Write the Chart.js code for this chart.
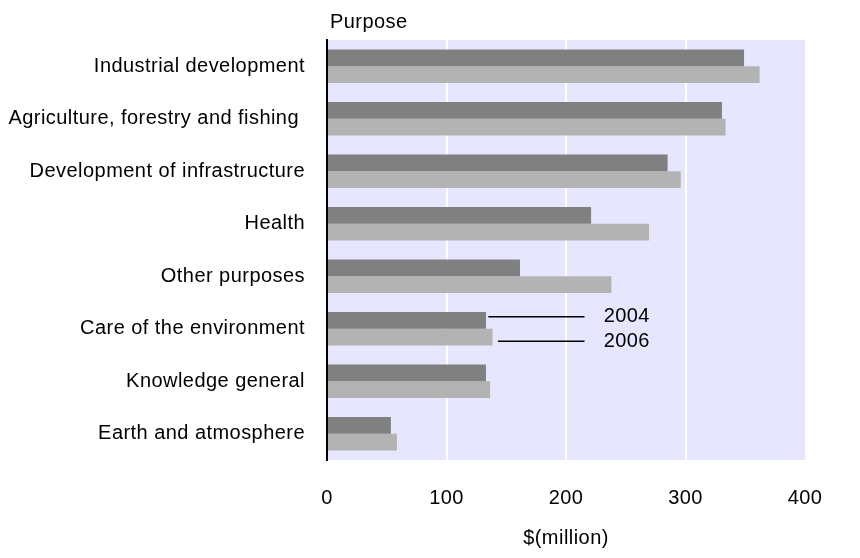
<!DOCTYPE html>
<html>
<head>
<meta charset="utf-8">
<script src="https://cdn.jsdelivr.net/npm/chart.js@4/dist/chart.umd.min.js"></script>
<style>
  html, body { margin: 0; padding: 0; background: #fff; }
  #wrap { width: 860px; height: 558px; }
</style>
</head>
<body>
<div id="wrap"><canvas id="c" width="860" height="558"></canvas></div>
<script>
// Spending by purpose, $(million)
const purposes = [
  'Industrial development',
  'Agriculture, forestry and fishing ',
  'Development of infrastructure',
  'Health',
  'Other purposes',
  'Care of the environment',
  'Knowledge general',
  'Earth and atmosphere'
];
const spend2004 = [349, 330.5, 285, 221, 161.5, 133, 133, 53.5];
const spend2006 = [362, 333.5, 296, 269.5, 238, 138.5, 136.5, 58.5];
const seriesNames = ['2004', '2006'];
const xTicks = [0, 100, 200, 300, 400];
const axisTitle = '$(million)';
const categoryTitle = 'Purpose';

const FONT = "'Liberation Sans', Arial, sans-serif";
const SPACING = '0.45px';

// Slightly open letter spacing for all canvas text
const textSpacing = {
  id: 'textSpacing',
  beforeUpdate(chart) { chart.ctx.letterSpacing = SPACING; },
  beforeDraw(chart) { chart.ctx.letterSpacing = SPACING; }
};

// Lavender plot background
const plotBackground = {
  id: 'plotBackground',
  beforeDraw(chart) {
    const { ctx, chartArea: a } = chart;
    ctx.save();
    ctx.fillStyle = '#ffffff';
    ctx.fillRect(0, 0, chart.width, chart.height);
    ctx.fillStyle = '#e6e6ff';
    ctx.fillRect(a.left, a.top, a.right - a.left, a.bottom - a.top);
    ctx.restore();
  }
};

// "Purpose" heading above the category axis, and the series callouts
const annotations = {
  id: 'annotations',
  afterDraw(chart) {
    const { ctx, chartArea: a, scales: { x, y } } = chart;
    ctx.save();
    ctx.font = '20px ' + FONT;
    ctx.fillStyle = '#000';
    ctx.textAlign = 'left';
    ctx.textBaseline = 'middle';
    ctx.fillText(categoryTitle, a.left + 3, a.top - 18);

    // callout lines from the "Care of the environment" bars
    const idx = purposes.indexOf('Care of the environment');
    const cy = y.getPixelForValue(idx);
    const rows = [
      { name: seriesNames[0], from: spend2004[idx] + 2, dy: -12 },
      { name: seriesNames[1], from: spend2006[idx] + 4.5, dy: 12.6 }
    ];
    ctx.strokeStyle = '#000';
    ctx.lineWidth = 1.5;
    rows.forEach(r => {
      const ly = cy + r.dy;
      ctx.beginPath();
      ctx.moveTo(x.getPixelForValue(r.from), ly);
      ctx.lineTo(x.getPixelForValue(215.5), ly);
      ctx.stroke();
      ctx.fillText(r.name, x.getPixelForValue(231.5), ly);
    });
    ctx.restore();
  }
};

new Chart(document.getElementById('c'), {
  type: 'bar',
  data: {
    labels: purposes,
    datasets: [
      { label: seriesNames[0], data: spend2004, backgroundColor: '#808080' },
      { label: seriesNames[1], data: spend2006, backgroundColor: '#b3b3b3' }
    ]
  },
  options: {
    indexAxis: 'y',
    responsive: false,
    animation: false,
    devicePixelRatio: 1,
    layout: { padding: { top: 40, right: 55, bottom: 0, left: 0 } },
    datasets: {
      bar: { categoryPercentage: 0.635, barPercentage: 1.0, borderWidth: 0 }
    },
    plugins: {
      legend: { display: false },
      tooltip: { enabled: false }
    },
    scales: {
      x: {
        type: 'linear',
        min: 0,
        max: 400,
        afterBuildTicks: s => { s.ticks = xTicks.map(v => ({ value: v })); },
        afterFit: s => { s.height = 98; },
        grid: {
          drawTicks: false,
          lineWidth: 2,
          color: c => (c.tick && c.tick.value > 0 && c.tick.value < 400) ? '#ffffff' : 'rgba(0,0,0,0)'
        },
        border: { display: false },
        ticks: {
          padding: 26,
          color: '#000',
          font: { family: FONT, size: 20 }
        },
        title: {
          display: true,
          text: axisTitle,
          color: '#000',
          font: { family: FONT, size: 20 },
          padding: { top: 0, bottom: 8 }
        }
      },
      y: {
        afterFit: s => { s.width = 327; },
        grid: { display: false, drawTicks: false },
        border: { display: true, color: '#000', width: 2 },
        ticks: {
          padding: 22,
          color: '#000',
          font: { family: FONT, size: 20 }
        }
      }
    }
  },
  plugins: [textSpacing, plotBackground, annotations]
});
</script>
</body>
</html>
